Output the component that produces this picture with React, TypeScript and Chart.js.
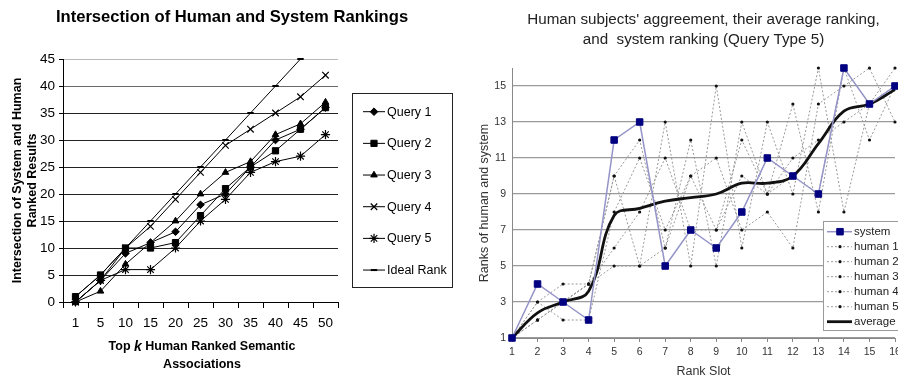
import React, { useEffect, useRef } from 'react';
import { Chart, registerables } from 'chart.js';
import { drawPoint } from 'chart.js/helpers';

Chart.register(...registerables);

const FONT = "Arial, 'Liberation Sans', Helvetica, sans-serif";

// ---------- Left chart data ----------
const LEFT_TITLE = 'Intersection of Human and System Rankings';
const LEFT_Y_TITLE = ['Intersection of System and Human', 'Ranked Results'];
const LEFT_X_TITLE_PARTS = ['Top ', 'k', ' Human Ranked Semantic'];
const LEFT_X_TITLE_LINE2 = 'Associations';
const TOP_K = ['1', '5', '10', '15', '20', '25', '30', '35', '40', '45', '50'];
const QUERY_1 = [0, 4, 9, 11, 13, 18, 20, 25, 30, 32, 36];
const QUERY_2 = [1, 5, 10, 10, 11, 16, 21, 25, 28, 32, 36];
const QUERY_3 = [0, 2, 7, 11, 15, 20, 24, 26, 31, 33, 37];
const QUERY_4 = [0, 4, 10, 14, 19, 24, 29, 32, 35, 38, 42];
const QUERY_5 = [0, 4, 6, 6, 10, 15, 19, 24, 26, 27, 31];
const IDEAL_RANK = [1, 5, 10, 15, 20, 25, 30, 35, 40, 45, null];
const LEFT_NAMES = ['Query 1', 'Query 2', 'Query 3', 'Query 4', 'Query 5', 'Ideal Rank'];
const LEFT_Y_MIN = 0;
const LEFT_Y_MAX = 45;
const LEFT_Y_STEP = 5;

// ---------- Right chart data ----------
const RIGHT_TITLE = ["Human subjects' aggreement, their average ranking,", 'and  system ranking (Query Type 5)'];
const RIGHT_Y_TITLE = 'Ranks of human and system';
const RIGHT_X_TITLE = 'Rank Slot';
const RANK_SLOTS = ['1', '2', '3', '4', '5', '6', '7', '8', '9', '10', '11', '12', '13', '14', '15', '16'];
const SYSTEM = [1, 4, 3, 2, 12, 13, 5, 7, 6, 8, 11, 10, 9, 16, 14, 15];
const HUMAN_1 = [1, 3, 4, 4, 10, 5, 13, 5, 15, 6, 13, 9, 16, 8, 14, 16];
const HUMAN_2 = [1, 2, 3, 4, 10, 12, 6, 12, 5, 13, 9, 14, 8, 16, 12, 15];
const HUMAN_3 = [1, 3, 2, 2, 8, 11, 7, 10, 11, 7, 8, 6, 14, 15, 16, 13];
const HUMAN_4 = [1, 2, 3, 4, 6, 8, 11, 7, 7, 12, 9, 11, 12, 13, 14, 15];
const HUMAN_5 = [1, 2, 3, 4, 5, 5, 6, 10, 7, 10, 9, 10, 9, 16, 14, 15];
const AVERAGE = [1, 2.4, 3, 3.6, 7.8, 8.2, 8.6, 8.8, 9, 9.6, 9.6, 10, 11.8, 13.6, 14, 14.8];
const RIGHT_NAMES = ['system', 'human 1', 'human 2', 'human 3', 'human 4', 'human 5', 'average'];
const RIGHT_Y_MIN = 1;
const RIGHT_Y_MAX = 16;
const RIGHT_Y_TICKS = [1, 3, 5, 7, 9, 11, 13, 15];

// ---------- Left chart ----------
const LEFT_STYLES = [
  { pointStyle: 'rectRot', pointRadius: 3.8, pointBorderWidth: 1 },
  { pointStyle: 'rect', pointRadius: 4.4, pointBorderWidth: 1 },
  { pointStyle: 'triangle', pointRadius: 3.8, pointBorderWidth: 1 },
  { pointStyle: 'crossRot', pointRadius: 4.6, pointBorderWidth: 1.2 },
  { pointStyle: 'star', pointRadius: 4.6, pointBorderWidth: 1.2 },
  { pointStyle: 'line', pointRadius: 3.2, pointBorderWidth: 2 },
];

const leftDeco = {
  id: 'leftDeco',
  afterDraw(chart: any) {
    const ctx = chart.ctx as CanvasRenderingContext2D;
    const a = chart.chartArea;
    ctx.save();
    ctx.fillStyle = '#000';
    ctx.textAlign = 'center';
    ctx.textBaseline = 'middle';
    ctx.font = `bold 16.6px ${FONT}`;
    ctx.fillText(LEFT_TITLE, 232, 17);

    // y title
    ctx.font = `bold 12.5px ${FONT}`;
    const cy = (a.top + a.bottom) / 2;
    LEFT_Y_TITLE.forEach((t, i) => {
      ctx.save();
      ctx.translate(18 + i * 15, cy);
      ctx.rotate(-Math.PI / 2);
      ctx.fillText(t, 0, 0);
      ctx.restore();
    });

    // x title (with italic k)
    const fonts = [`bold 12.5px ${FONT}`, `italic bold 14px ${FONT}`, `bold 12.5px ${FONT}`];
    const widths = LEFT_X_TITLE_PARTS.map((p, i) => { ctx.font = fonts[i]; return ctx.measureText(p).width; });
    const total = widths.reduce((s, w) => s + w, 0);
    let x = 202 - total / 2;
    ctx.textAlign = 'left';
    LEFT_X_TITLE_PARTS.forEach((p, i) => {
      ctx.font = fonts[i];
      ctx.fillText(p, x, 347);
      x += widths[i];
    });
    ctx.textAlign = 'center';
    ctx.font = `bold 12.5px ${FONT}`;
    ctx.fillText(LEFT_X_TITLE_LINE2, 202, 365);

    // legend
    ctx.strokeStyle = '#222';
    ctx.lineWidth = 1;
    ctx.strokeRect(352.5, 93.5, 100, 194);
    ctx.font = `12.5px ${FONT}`;
    ctx.textAlign = 'left';
    chart.data.datasets.forEach((ds: any, i: number) => {
      const y = 111.7 + i * 31.67;
      ctx.strokeStyle = '#000';
      ctx.lineWidth = 1;
      ctx.beginPath();
      ctx.moveTo(363, y);
      ctx.lineTo(385, y);
      ctx.stroke();
      ctx.fillStyle = '#000';
      ctx.lineWidth = ds.pointBorderWidth;
      drawPoint(ctx, { pointStyle: ds.pointStyle, radius: ds.pointRadius, rotation: 0, borderWidth: ds.pointBorderWidth } as any, 374, y);
      ctx.fillStyle = '#000';
      ctx.fillText(ds.label, 387, y + 0.5);
    });
    ctx.restore();
  },
};

function leftConfig(): any {
  const series = [QUERY_1, QUERY_2, QUERY_3, QUERY_4, QUERY_5, IDEAL_RANK];
  return {
    type: 'line',
    data: {
      labels: TOP_K,
      datasets: series.map((d, i) => ({
        label: LEFT_NAMES[i],
        data: d,
        borderColor: '#000',
        backgroundColor: '#000',
        pointBackgroundColor: '#000',
        pointBorderColor: '#000',
        borderWidth: 1,
        tension: 0,
        clip: false,
        spanGaps: false,
        ...LEFT_STYLES[i],
      })),
    },
    options: {
      animation: false,
      responsive: false,
      devicePixelRatio: 1,
      layout: { padding: { left: 0, right: 118, top: 59, bottom: 0 } },
      plugins: { legend: { display: false }, title: { display: false }, tooltip: { enabled: false } },
      scales: {
        x: {
          type: 'category',
          offset: true,
          grid: { offset: true, drawOnChartArea: false, drawTicks: true, tickLength: 6, color: '#000', tickColor: '#000' },
          border: { color: '#000', width: 1 },
          ticks: { font: { family: FONT, size: 13.5 }, color: '#000', padding: 7, maxRotation: 0, autoSkip: false },
          afterFit: (s: any) => { s.height = 78; },
        },
        y: {
          min: LEFT_Y_MIN,
          max: LEFT_Y_MAX,
          ticks: { stepSize: LEFT_Y_STEP, font: { family: FONT, size: 13.5 }, color: '#000', padding: 4 },
          grid: {
            drawTicks: true,
            tickLength: 4,
            tickColor: '#000',
            color: (c: any) => {
              const v = c.tick ? c.tick.value : 0;
              return v === 45 ? '#b8b8b8' : v === 40 ? '#6a6a6a' : '#222';
            },
          },
          border: { color: '#000', width: 1 },
          afterFit: (s: any) => { s.width = 63; },
        },
      },
    },
    plugins: [leftDeco],
  };
}

// ---------- Right chart ----------
const rightDeco = {
  id: 'rightDeco',
  afterDraw(chart: any) {
    const ctx = chart.ctx as CanvasRenderingContext2D;
    const a = chart.chartArea;
    const cx = (a.left + a.right) / 2;
    ctx.save();
    ctx.fillStyle = '#222';
    ctx.textAlign = 'center';
    ctx.textBaseline = 'middle';
    ctx.font = `15.2px ${FONT}`;
    RIGHT_TITLE.forEach((t, i) => ctx.fillText(t, cx, 20 + i * 20));
    ctx.font = `12.5px ${FONT}`;
    ctx.fillStyle = '#333';
    ctx.fillText(RIGHT_X_TITLE, cx, 372);
    ctx.save();
    ctx.translate(29, (a.top + a.bottom) / 2);
    ctx.rotate(-Math.PI / 2);
    ctx.fillText(RIGHT_Y_TITLE, 0, 0);
    ctx.restore();

    // legend
    ctx.fillStyle = '#fff';
    ctx.fillRect(367, 221, 100, 109);
    ctx.strokeStyle = '#999';
    ctx.lineWidth = 1;
    ctx.strokeRect(367.5, 221.5, 100, 109);
    ctx.font = `11.5px ${FONT}`;
    ctx.textAlign = 'left';
    const sets = chart.data.datasets as any[];
    RIGHT_NAMES.forEach((name, i) => {
      const ds = sets.find((d) => d.label === name);
      const y = 231.7 + i * 15;
      ctx.save();
      ctx.strokeStyle = ds.borderColor;
      ctx.lineWidth = ds.borderWidth;
      ctx.setLineDash(ds.borderDash || []);
      ctx.beginPath();
      ctx.moveTo(371, y);
      ctx.lineTo(396, y);
      ctx.stroke();
      ctx.restore();
      if (ds.pointRadius > 0) {
        ctx.fillStyle = ds.pointBackgroundColor;
        ctx.strokeStyle = ds.pointBorderColor;
        ctx.lineWidth = ds.pointBorderWidth;
        drawPoint(ctx, { pointStyle: ds.pointStyle, radius: ds.pointRadius, rotation: 0, borderWidth: ds.pointBorderWidth } as any, 384, y);
      }
      ctx.fillStyle = '#222';
      ctx.fillText(name, 398, y + 0.5);
    });
    ctx.restore();
  },
};

function rightConfig(): any {
  const humans = [HUMAN_1, HUMAN_2, HUMAN_3, HUMAN_4, HUMAN_5];
  const datasets: any[] = [
    {
      label: 'system',
      data: SYSTEM,
      borderColor: '#9494c8',
      borderWidth: 1.5,
      pointStyle: 'rect',
      pointRadius: 4.6,
      pointBackgroundColor: '#000080',
      pointBorderColor: '#000080',
      pointBorderWidth: 1,
      tension: 0,
      clip: false,
    },
    {
      label: 'average',
      data: AVERAGE,
      borderColor: '#111',
      borderWidth: 2.8,
      pointRadius: 0,
      tension: 0.4,
      clip: false,
    },
    ...humans.map((h, i) => ({
      label: `human ${i + 1}`,
      data: h,
      borderColor: '#999',
      borderWidth: 1,
      borderDash: [2, 2],
      pointStyle: 'circle',
      pointRadius: 1.6,
      pointBackgroundColor: '#111',
      pointBorderColor: '#111',
      pointBorderWidth: 0,
      tension: 0,
      clip: false,
    })),
  ];
  return {
    type: 'line',
    data: { labels: RANK_SLOTS, datasets },
    options: {
      animation: false,
      responsive: false,
      devicePixelRatio: 1,
      layout: { padding: { left: 0, right: 21, top: 68, bottom: 0 } },
      plugins: { legend: { display: false }, title: { display: false }, tooltip: { enabled: false } },
      scales: {
        x: {
          type: 'category',
          offset: false,
          grid: { drawOnChartArea: false, drawTicks: true, tickLength: 4, color: '#888', tickColor: '#888' },
          border: { color: '#888', width: 1 },
          ticks: { font: { family: FONT, size: 10.5 }, color: '#333', padding: 4, maxRotation: 0, autoSkip: false },
          afterFit: (s: any) => { s.height = 42; },
        },
        y: {
          min: RIGHT_Y_MIN,
          max: RIGHT_Y_MAX,
          afterBuildTicks: (s: any) => { s.ticks = RIGHT_Y_TICKS.map((v) => ({ value: v })); },
          ticks: { font: { family: FONT, size: 10.5 }, color: '#333', padding: 6 },
          grid: { drawTicks: false, color: '#9a9a9a', lineWidth: 1.2 },
          border: { color: '#888', width: 1 },
          afterFit: (s: any) => { s.width = 56; },
        },
      },
    },
    plugins: [rightDeco],
  };
}

export default function App() {
  const leftRef = useRef<HTMLCanvasElement>(null);
  const rightRef = useRef<HTMLCanvasElement>(null);
  useEffect(() => {
    const c1 = new Chart(leftRef.current as HTMLCanvasElement, leftConfig());
    const c2 = new Chart(rightRef.current as HTMLCanvasElement, rightConfig());
    return () => {
      c1.destroy();
      c2.destroy();
    };
  }, []);
  return (
    <div style={{ position: 'absolute', left: 0, top: 0, width: 898, height: 380, overflow: 'hidden', background: '#fff' }}>
      <div style={{ position: 'absolute', left: 0, top: 0, width: 456, height: 380 }}>
        <canvas ref={leftRef} width={456} height={380} style={{ width: 456, height: 380, display: 'block' }} />
      </div>
      <div style={{ position: 'absolute', left: 456, top: 0, width: 460, height: 380 }}>
        <canvas ref={rightRef} width={460} height={380} style={{ width: 460, height: 380, display: 'block' }} />
      </div>
    </div>
  );
}
